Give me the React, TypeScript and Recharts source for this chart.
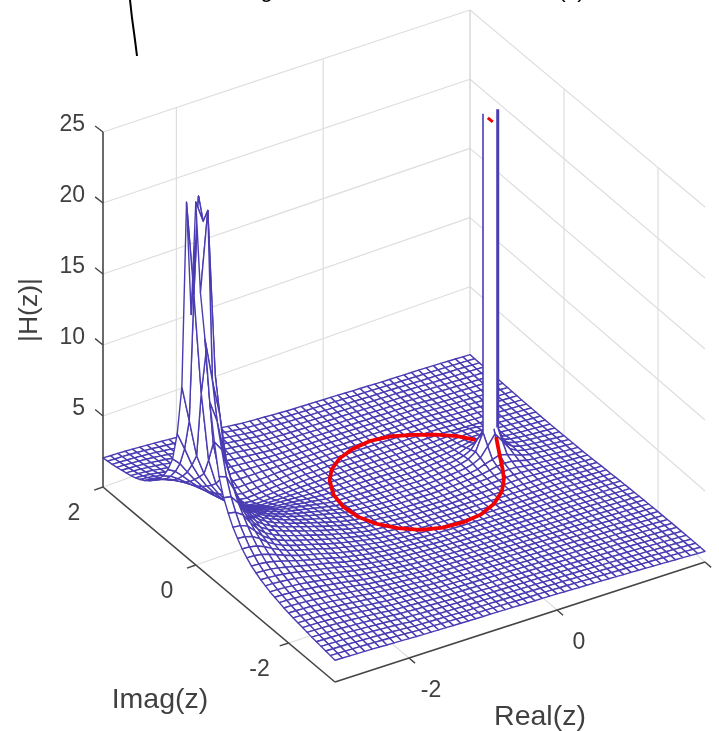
import React from 'react';
import { ScatterChart, Scatter, XAxis, YAxis } from 'recharts';

const realValues = [-3,-2.9,-2.8,-2.7,-2.6,-2.5,-2.4,-2.3,-2.2,-2.1,-2,-1.9,-1.8,-1.7,-1.6,-1.5,-1.4,-1.3,-1.2,-1.1,-1,-.9,-.8,-.7,-.6,-.5,-.4,-.3,-.2,-.1,0,.1,.2,.3,.4,.5,.6,.7,.8,.9,1,1.1,1.2,1.3,1.4,1.5,1.6,1.7,1.8,1.9,2];
const imagValues = [2,1.9,1.8,1.7,1.6,1.5,1.4,1.3,1.2,1.1,1,.9,.8,.7,.6,.5,.4,.3,.2,.1,0,-.1,-.2,-.3,-.4,-.5,-.6,-.7,-.8,-.9,-1,-1.1,-1.2,-1.3,-1.4,-1.5,-1.6,-1.7,-1.8,-1.9,-2,-2.1,-2.2,-2.3,-2.4,-2.5,-2.6,-2.7,-2.8,-2.9,-3];

// |H(z)| in hundredths: one row per imag value, one column per real value
const magnitudeHundredths = [
[205,202,200,197,193,189,185,180,175,170,165,158,150,143,136,129,122,114,107,100,96,92,88,83,79,75,72,70,67,65,62,60,57,54,51,49,46,43,40,38,36,34,32,30,28,25,22,19,16,13,10],
[209,206,204,201,197,192,187,181,175,169,162,155,147,140,133,126,118,111,103,96,92,88,85,81,77,73,71,68,66,64,61,59,56,53,50,48,46,43,41,38,36,34,31,29,27,24,21,19,16,13,10],
[214,211,208,205,200,195,189,182,175,167,159,151,143,136,129,121,114,107,99,92,88,85,82,78,75,72,69,67,65,62,60,58,55,53,50,47,45,43,42,39,36,34,31,29,27,24,21,19,16,13,10],
[220,217,213,209,204,198,191,183,175,166,156,147,138,131,124,117,110,102,95,88,85,81,78,76,73,70,68,66,64,61,59,57,55,52,50,48,46,44,43,40,37,35,32,29,27,24,21,19,16,13,10],
[227,223,219,214,208,201,193,184,174,163,152,142,133,126,119,112,105,98,91,84,81,78,75,73,70,68,66,64,62,60,59,57,55,53,50,48,46,44,43,40,37,35,32,29,26,24,21,18,15,13,10],
[235,231,226,220,213,205,195,184,172,160,147,136,127,120,113,107,100,93,87,80,77,75,72,70,69,67,65,63,61,59,58,56,54,52,50,48,46,45,44,40,37,34,32,29,26,24,21,18,15,13,10],
[243,239,233,226,217,208,197,184,170,155,140,128,118,112,105,99,93,87,81,75,73,71,69,68,66,65,63,61,60,58,56,55,53,52,50,48,47,46,45,41,37,33,30,28,25,23,20,18,15,13,10],
[255,250,243,235,224,212,198,183,166,148,130,115,104,98,93,88,83,78,74,71,69,68,67,66,65,64,62,61,59,58,56,55,53,52,51,49,48,47,46,42,38,34,31,28,26,23,20,18,15,13,10],
[270,265,256,245,232,217,200,181,160,138,116,100,88,85,81,78,75,72,70,67,66,65,65,64,64,63,62,60,59,58,56,55,54,53,51,50,49,48,47,43,39,35,32,29,27,24,21,18,15,13,10],
[290,283,272,258,242,224,203,179,153,126,100,83,70,69,68,67,66,65,64,63,63,63,62,62,62,62,61,60,59,57,56,55,54,53,52,51,50,49,48,44,40,36,33,30,28,24,21,18,15,13,10],
[315,306,291,273,253,231,206,177,146,114,82,64,52,53,54,55,56,58,59,60,60,60,61,61,61,62,61,60,59,57,56,55,54,53,52,51,50,49,48,44,40,36,33,30,28,24,21,18,15,13,10],
[345,334,313,290,265,238,208,174,138,101,66,49,38,41,44,47,50,52,55,58,59,59,60,60,61,61,60,59,58,57,56,55,54,53,52,52,51,50,49,45,41,37,34,32,29,25,22,19,16,13,10],
[380,365,340,310,278,245,210,171,130,90,55,42,35,38,41,44,47,50,53,56,57,57,58,59,60,60,59,58,58,57,56,55,54,53,53,52,51,51,50,46,42,38,35,32,30,26,22,19,16,13,10],
[430,410,375,335,295,255,214,172,132,94,62,47,38,41,44,46,49,51,54,56,57,57,58,59,60,60,59,58,58,57,56,55,54,53,53,52,51,51,50,46,42,39,36,33,31,27,23,20,17,14,11],
[500,470,420,365,315,268,222,179,140,106,78,60,50,51,52,53,55,56,57,58,58,59,59,60,60,60,59,58,57,56,55,54,54,53,53,53,53,54,56,58,60,58,50,40,33,29,25,21,18,15,12],
[600,550,475,405,340,285,234,190,152,122,98,80,68,67,66,65,64,63,61,60,60,60,60,60,60,60,59,58,57,55,54,53,53,53,53,54,55,57,60,64,66,64,56,44,34,30,26,22,18,15,12],
[800,680,550,450,370,305,250,205,168,140,118,100,88,85,83,78,74,70,66,63,62,62,61,61,60,60,59,58,56,55,53,52,52,53,54,55,57,60,66,72,75,72,62,48,37,32,27,23,19,16,13],
[1150,900,640,500,400,325,268,222,186,160,140,122,108,102,96,90,84,78,72,66,65,64,63,62,61,60,59,57,55,53,52,51,52,53,55,57,60,66,75,85,90,85,72,55,40,35,29,25,21,17,14],
[2450,1800,1100,620,440,350,288,240,205,180,160,142,128,120,112,104,95,87,78,70,68,66,64,62,61,60,58,56,54,52,50,50,52,54,57,60,64,72,90,105,120,105,85,62,46,38,32,27,23,19,15],
[1700,2500,1400,760,500,380,308,260,225,200,180,162,146,136,126,115,105,94,84,74,71,68,66,63,61,60,58,56,54,52,50,50,52,55,58,62,68,80,105,170,240,170,100,68,50,42,35,30,26,21,17],
[2500,2350,1600,800,520,400,325,275,240,215,195,177,160,148,136,125,113,101,89,78,74,71,68,65,62,60,58,56,54,52,50,50,52,55,59,64,70,85,120,240,350,240,110,70,52,44,37,32,28,23,19],
[1900,2450,1300,780,510,400,330,282,250,225,205,187,170,157,144,132,119,107,94,82,78,74,69,66,63,60,58,56,54,52,50,50,52,55,58,62,68,80,105,170,240,170,100,68,54,46,39,34,30,25,21],
[1600,1300,1050,680,490,395,332,288,258,235,215,197,180,166,152,138,125,112,99,86,81,76,71,67,63,60,58,56,54,52,50,50,52,54,57,60,64,72,90,105,120,105,85,64,52,47,41,36,32,27,23],
[1200,1050,800,590,460,380,325,288,262,240,220,202,185,170,155,141,127,113,100,88,83,78,72,68,64,60,58,56,54,52,50,50,52,54,56,59,62,66,75,85,90,85,72,58,50,46,41,36,32,28,24],
[950,880,700,530,435,365,320,287,262,242,222,205,190,174,158,143,128,113,101,90,84,79,73,69,64,60,58,56,54,52,50,50,52,53,55,57,60,62,66,72,75,72,62,55,50,45,40,35,30,28,25],
[740,720,620,490,410,350,312,284,260,242,225,208,192,176,160,145,130,115,104,92,86,81,76,71,66,62,60,58,56,54,52,52,53,54,55,56,58,59,61,65,66,64,60,54,51,46,42,38,34,31,28],
[620,610,550,455,385,335,302,278,258,240,223,207,190,175,160,146,131,117,105,94,88,83,78,73,68,64,62,60,58,56,54,54,54,55,55,56,57,57,58,60,61,60,57,54,52,48,44,40,37,34,31],
[540,530,495,425,365,322,293,270,252,235,220,204,188,173,158,145,131,118,107,96,90,85,80,75,70,66,64,62,60,58,56,56,56,56,56,56,56,56,56,56,56,55,55,54,53,49,45,42,39,36,34],
[470,465,445,395,345,310,283,263,246,230,216,200,184,170,156,144,131,119,108,98,92,87,82,77,72,68,66,64,62,60,58,58,58,57,57,57,56,56,56,56,55,55,55,54,54,51,47,44,41,39,37],
[420,415,400,370,328,298,274,255,240,225,212,196,180,167,154,142,131,120,110,100,94,88,83,78,74,70,68,66,64,62,60,60,59,59,58,58,57,57,56,56,56,55,55,55,55,52,49,46,44,42,40],
[375,372,362,340,312,287,265,248,234,220,208,192,176,164,152,140,130,120,111,102,96,91,86,81,77,73,71,69,67,65,63,62,62,61,60,60,59,59,58,58,58,57,57,56,56,53,51,48,46,44,42],
[340,338,330,315,295,275,256,240,227,214,202,187,172,160,149,138,128,119,111,104,98,94,89,85,80,76,74,72,70,69,67,66,65,64,63,62,61,60,60,60,59,59,58,58,57,55,53,51,49,47,45],
[310,308,302,292,278,263,247,233,221,208,196,182,168,157,146,136,127,119,112,106,100,96,92,88,84,80,78,76,74,73,71,70,69,68,67,66,65,64,63,62,62,61,60,59,58,56,54,52,51,49,48],
[290,288,283,275,263,250,238,226,214,203,191,178,165,155,145,135,127,120,113,108,103,99,95,91,87,84,82,80,78,77,75,74,73,72,71,69,68,67,66,65,64,63,62,61,60,58,56,55,53,52,50],
[270,268,264,258,250,240,229,218,208,198,187,175,162,152,143,135,127,120,114,109,105,101,97,94,90,87,85,83,81,80,78,77,76,75,74,73,71,70,69,68,67,66,65,63,62,60,59,57,56,54,53],
[255,254,250,245,238,230,220,210,201,191,181,170,158,150,142,135,127,121,115,110,106,102,99,96,93,90,88,86,85,83,82,80,79,78,76,75,74,72,70,69,68,67,67,66,65,63,61,60,58,57,55],
[240,239,236,232,227,220,212,204,195,186,177,166,155,148,141,134,128,122,116,111,107,104,101,99,96,93,91,89,88,86,85,83,82,80,79,77,76,74,73,72,71,70,69,68,67,65,63,62,60,59,57],
[230,229,226,222,217,211,204,196,188,180,171,161,152,146,139,134,128,122,117,112,109,106,103,101,98,96,94,92,91,89,88,86,85,83,82,80,79,77,76,75,74,73,72,70,69,67,65,64,62,61,59],
[220,219,217,213,208,203,197,190,182,175,167,158,149,144,138,133,128,123,118,113,110,107,105,103,101,99,97,95,94,92,91,89,88,86,85,83,82,80,79,78,77,75,74,72,71,69,67,66,64,63,61],
[210,209,207,204,200,195,190,184,177,170,163,155,147,142,137,132,128,123,119,114,112,109,107,105,104,102,100,98,97,95,94,92,91,89,88,86,85,83,82,80,79,77,76,75,73,71,69,68,66,65,63],
[202,201,199,197,193,189,184,178,172,166,159,152,145,141,136,132,128,124,119,115,113,111,109,108,106,105,103,101,100,98,97,95,94,92,91,89,88,86,85,83,81,80,78,77,75,73,71,70,68,67,65],
[195,194,192,190,187,183,178,173,168,162,156,149,143,139,135,131,127,124,120,116,114,112,110,109,107,106,104,103,101,100,98,97,95,94,92,91,89,88,87,85,83,81,80,79,77,75,73,71,69,68,66],
[188,187,186,184,181,178,173,169,164,158,152,146,141,137,134,130,127,123,120,116,115,113,112,110,109,108,106,105,104,102,101,99,97,96,94,93,91,90,89,87,85,83,82,80,79,77,75,73,71,69,67],
[182,181,180,178,175,172,168,164,160,155,150,144,139,136,133,130,126,123,120,117,116,114,113,112,111,110,108,107,106,104,103,101,99,98,96,95,93,92,91,89,87,85,84,82,81,79,77,75,73,71,69],
[176,175,174,172,170,167,164,160,156,152,147,142,137,134,132,129,126,123,121,118,117,116,115,113,112,111,109,108,107,105,104,102,101,99,98,96,95,94,93,91,89,87,86,84,83,80,78,76,74,72,70],
[170,169,168,167,165,162,159,156,153,149,145,140,135,133,130,128,126,123,121,118,117,116,115,114,112,111,110,109,108,107,105,104,102,101,99,98,96,95,94,92,90,88,87,85,84,81,79,77,75,73,71],
[165,164,163,162,160,158,155,152,149,146,142,138,133,131,129,127,125,123,121,119,118,117,116,115,114,113,112,111,109,108,107,105,104,102,101,99,98,96,95,93,91,89,88,86,85,82,80,78,76,74,72],
[160,159,158,157,155,153,151,149,146,143,140,136,131,130,128,126,124,122,121,119,118,117,117,116,115,114,113,112,111,110,109,107,105,104,102,101,99,98,96,94,92,91,89,87,86,83,81,79,77,75,73],
[155,154,153,152,151,149,147,145,143,140,137,134,130,129,127,126,124,123,121,120,119,118,118,117,116,115,114,113,112,111,110,108,107,105,103,102,100,99,97,95,94,92,90,88,87,84,82,80,78,76,74],
[150,149,148,147,146,145,143,141,139,137,135,132,129,128,127,125,124,123,121,120,119,119,118,117,116,115,114,113,113,112,111,109,108,106,105,103,102,100,98,96,95,93,91,89,88,85,83,81,79,77,75],
[145,144,143,142,141,140,138,136,134,133,131,129,127,126,125,124,123,122,121,120,119,119,118,117,116,115,114,113,113,112,111,109,108,106,105,103,102,100,98,96,95,93,91,89,88,85,83,81,79,77,75],
];

// unit circle |H|
const circleAngles = [15,30,45,60,75,90,105,120,135,150,165,180,195,210,225,240,255,270,285,300,315,330,338,345,352];
const circleHeights = [1,.75,.55,.45,.5,.55,.55,.6,.65,.75,.6,.55,.5,.5,.5,.46,.48,.5,.5,.55,.6,.6,.85,1.3,2.3];
const tipAngles = [3,-3];
const tipHeights = [24.4,24.4];

// the clipped column at the pole on the unit circle
const columnReal = [.9,1.1];
const columnBase = [2.4,2.4];
const columnTop = [25,25];

const zTicks = [5,10,15,20,25];
const zTickLabels = ['5','10','15','20','25'];
const realTicks = [-2,0,2];
const realTickLabels = ['-2','0','2'];
const imagTicks = [2,0,-2];
const imagTickLabels = ['2','0','-2'];
const arcX = [130,132,135,137];
const arcY = [0,18,40,56];

const FLOOR = { L: [103, 487], F: [335, 682], R: [705, 562], B: [470, 356] };
const TOP = { L: [103, 132], F: [335, 307], R: [705, 207], B: [470, 10] };

const mix = (c: any, u: number, v: number, k: number) =>
  (1 - u) * (1 - v) * c.L[k] + (1 - u) * v * c.F[k] + u * v * c.R[k] + u * (1 - v) * c.B[k];

const project = (re: number, im: number, z: number) => {
  const u = (re + 3) / 5;
  const v = (2 - im) / 5;
  const t = z / 25;
  return {
    x: mix(FLOOR, u, v, 0) * (1 - t) + mix(TOP, u, v, 0) * t,
    y: mix(FLOOR, u, v, 1) * (1 - t) + mix(TOP, u, v, 1) * t,
  };
};

const seg = (a: any, b: any, stroke: string, width: number) => ({ x: a.x, y: a.y, x2: b.x, y2: b.y, stroke, width });

const GRID = '#dedede';
const AXIS = '#454545';
const MESH = '#4a3cb2';
const TEXT = '#404040';

const wallSegments: any[] = [];
zTicks.forEach((z) => {
  wallSegments.push(seg(project(-3, 2, z), project(2, 2, z), GRID, 1.2));
  wallSegments.push(seg(project(2, 2, z), project(2, -3, z), GRID, 1.2));
});
wallSegments.push(seg(project(2, 2, 0), project(2, 2, 25), '#cfcfcf', 1.2));
wallSegments.push(seg(project(-3, 2, 0), project(2, 2, 0), GRID, 1.2));
wallSegments.push(seg(project(2, 2, 0), project(2, -3, 0), GRID, 1.2));
[-2, 0].forEach((re) => {
  wallSegments.push(seg(project(re, 2, 0), project(re, 2, 25), GRID, 1.2));
  wallSegments.push(seg(project(re, -3, 0), project(re, 2, 0), GRID, 1.2));
});
[0, -2].forEach((im) => {
  wallSegments.push(seg(project(2, im, 0), project(2, im, 25), GRID, 1.2));
  wallSegments.push(seg(project(-3, im, 0), project(2, im, 0), GRID, 1.2));
});

// back-to-front: far real values first, far imag values first
const quads: any[] = [];
const height = (j: number, i: number) => magnitudeHundredths[j][i] / 100;
for (let i = realValues.length - 2; i >= 0; i--) {
  for (let j = 0; j < imagValues.length - 1; j++) {
    const corners = [
      project(realValues[i], imagValues[j], height(j, i)),
      project(realValues[i + 1], imagValues[j], height(j, i + 1)),
      project(realValues[i + 1], imagValues[j + 1], height(j + 1, i + 1)),
      project(realValues[i], imagValues[j + 1], height(j + 1, i)),
    ];
    quads.push({ x: corners[0].x, y: corners[0].y, corners, fill: '#fff', stroke: MESH, width: 1.4 });
  }
}

const cA = project(columnReal[0], 0, columnBase[0]);
const cB = project(columnReal[0], 0, columnTop[0]);
const cC = project(columnReal[1], 0, columnTop[1]);
const cD = project(columnReal[1], 0, columnBase[1]);
const columnFace = [{ x: cA.x, y: cA.y, corners: [cA, cB, cC, cD], fill: '#fff', stroke: 'none', width: 0 }];
const columnEdges = [seg(cA, cB, MESH, 1.6), seg(cD, cC, MESH, 3)];

const axisSegments: any[] = [
  seg(project(-3, 2, 0), project(-3, 2, 25), AXIS, 1.6),
  seg(project(-3, 2, 0), project(-3, -3, 0), AXIS, 1.6),
  seg(project(-3, -3, 0), project(2, -3, 0), AXIS, 1.6),
];
zTicks.forEach((z) => axisSegments.push(seg(project(-3, 2, z), project(-3, 2.17, z), AXIS, 1.4)));
realTicks.forEach((re) => axisSegments.push(seg(project(re, -3, 0), project(re, -3.13, 0), AXIS, 1.4)));
imagTicks.forEach((im) => axisSegments.push(seg(project(-3, im, 0), project(-3.12, im, 0), AXIS, 1.4)));

const toCircle = (angles: number[], heights: number[]) =>
  angles.map((a, k) => project(Math.cos((a * Math.PI) / 180), Math.sin((a * Math.PI) / 180), heights[k]));
const circlePoints = toCircle(circleAngles, circleHeights);
const tipPoints = toCircle(tipAngles, tipHeights);
const arcPoints = arcX.map((x, k) => ({ x, y: arcY[k] }));

const labels: any[] = [];
zTicks.forEach((z, k) => {
  const p = project(-3, 2, z);
  labels.push({ x: p.x - 18, y: p.y - 9, text: zTickLabels[k], size: 23, anchor: 'end', fill: TEXT });
});
realTicks.forEach((re, k) => {
  const p = project(re, -3, 0);
  labels.push({ x: p.x + 22, y: p.y + 31, text: realTickLabels[k], size: 23, anchor: 'middle', fill: TEXT });
});
imagTicks.forEach((im, k) => {
  const p = project(-3, im, 0);
  labels.push({ x: p.x - 29, y: p.y + 25, text: imagTickLabels[k], size: 23, anchor: 'middle', fill: TEXT });
});
labels.push({ x: 160, y: 698, text: 'Imag(z)', size: 28.5, anchor: 'middle', fill: TEXT });
labels.push({ x: 540, y: 715, text: 'Real(z)', size: 28.5, anchor: 'middle', fill: TEXT });
labels.push({ x: 28, y: 310, text: '|H(z)|', size: 26.5, anchor: 'middle', fill: TEXT, rotate: -90 });
labels.push({ x: 228, y: -3, text: 'Magnitude of transfer function H(z)', size: 23.2, anchor: 'start', fill: '#000', baseline: 'alphabetic' });

const SegmentShape = (p: any) => {
  const d = p.payload;
  return <line x1={p.cx} y1={p.cy} x2={p.cx + d.x2 - d.x} y2={p.cy + d.y2 - d.y} stroke={d.stroke} strokeWidth={d.width} />;
};
const QuadShape = (p: any) => {
  const d = p.payload;
  const pts = d.corners.map((c: any) => `${p.cx + c.x - d.x},${p.cy + c.y - d.y}`).join(' ');
  return <polygon points={pts} fill={d.fill} stroke={d.stroke} strokeWidth={d.width} strokeLinejoin="round" />;
};
const LabelShape = (p: any) => {
  const d = p.payload;
  return (
    <text
      x={p.cx}
      y={p.cy}
      fontFamily="'Liberation Sans', Arial, sans-serif"
      fontSize={d.size}
      fill={d.fill}
      textAnchor={d.anchor}
      dominantBaseline={d.baseline || 'central'}
      transform={d.rotate ? `rotate(${d.rotate} ${p.cx} ${p.cy})` : undefined}
    >
      {d.text}
    </text>
  );
};
const NoMark = () => <g />;

export default function App() {
  return (
    <div style={{ position: 'absolute', left: 0, top: 0, width: 719, height: 731, overflow: 'hidden', background: '#fff', filter: 'blur(0.5px)' }}>
      <ScatterChart width={719} height={731} margin={{ top: 0, right: 0, bottom: 0, left: 0 }}>
        <XAxis type="number" dataKey="x" domain={[0, 719]} hide allowDataOverflow />
        <YAxis type="number" dataKey="y" domain={[0, 731]} reversed hide allowDataOverflow />
        <Scatter data={wallSegments} shape={SegmentShape} isAnimationActive={false} />
        <Scatter data={quads} shape={QuadShape} isAnimationActive={false} />
        <Scatter data={axisSegments} shape={SegmentShape} isAnimationActive={false} />
        <Scatter data={circlePoints} shape={NoMark} line={{ stroke: '#f00000', strokeWidth: 3.8 }} isAnimationActive={false} />
        <Scatter data={columnFace} shape={QuadShape} isAnimationActive={false} />
        <Scatter data={columnEdges} shape={SegmentShape} isAnimationActive={false} />
        <Scatter data={tipPoints} shape={NoMark} line={{ stroke: '#f00000', strokeWidth: 3 }} isAnimationActive={false} />
        <Scatter data={arcPoints} shape={NoMark} line={{ stroke: '#000', strokeWidth: 2 }} isAnimationActive={false} />
        <Scatter data={labels} shape={LabelShape} isAnimationActive={false} />
      </ScatterChart>
    </div>
  );
}
